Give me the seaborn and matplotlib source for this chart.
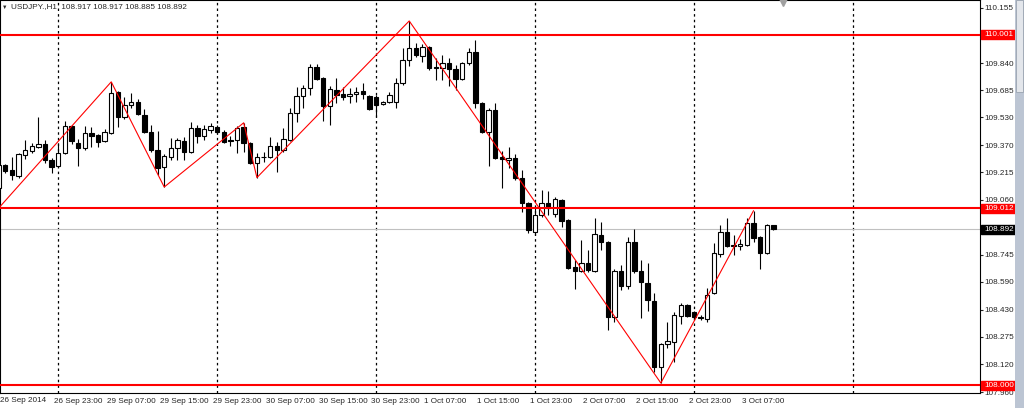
import pandas as pd
import seaborn as sns
import matplotlib.pyplot as plt
import matplotlib.transforms as mtransforms
from matplotlib.patches import Rectangle

symbol = "USDJPY.,H1"

# hourly candles, 26 Sep 15:00 .. 3 Oct 12:00
opens = [
    109.126, 109.258, 109.229, 109.195, 109.315, 109.338, 109.361, 109.378, 109.286, 109.252,
    109.327, 109.481, 109.384, 109.355, 109.441, 109.429, 109.395, 109.441, 109.675, 109.532,
    109.601, 109.618, 109.544, 109.446, 109.344, 109.246, 109.304, 109.355, 109.395, 109.332,
    109.469, 109.424, 109.458, 109.475, 109.446, 109.401, 109.401, 109.475, 109.384, 109.269,
    109.306, 109.304, 109.366, 109.344, 109.401, 109.555, 109.652, 109.698, 109.818, 109.755,
    109.595, 109.686, 109.664, 109.652, 109.664, 109.681, 109.652, 109.646, 109.606, 109.618,
    109.618, 109.727, 109.858, 109.926, 109.881, 109.932, 109.818, 109.812, 109.841, 109.806,
    109.749, 109.841, 109.904, 109.612, 109.446, 109.572, 109.304, 109.286, 109.298, 109.183,
    109.041, 108.875, 108.972, 109.041, 108.978, 109.058, 108.944, 108.675, 108.652, 108.698,
    108.652, 108.858, 108.818, 108.389, 108.652, 108.566, 108.818, 108.652, 108.584, 108.481,
    108.104, 108.235, 108.247, 108.395, 108.458, 108.418, 108.389, 108.378, 108.527, 108.749,
    108.875, 108.801, 108.795, 108.801, 108.926, 108.846, 108.755, 108.917,
]
highs = [
    109.269, 109.263, 109.304, 109.327, 109.401, 109.384, 109.532, 109.401, 109.298, 109.384,
    109.509, 109.486, 109.406, 109.481, 109.475, 109.435, 109.464, 109.733, 109.681, 109.646,
    109.669, 109.635, 109.578, 109.486, 109.452, 109.321, 109.412, 109.412, 109.418, 109.504,
    109.486, 109.486, 109.498, 109.486, 109.458, 109.424, 109.481, 109.499, 109.389, 109.327,
    109.332, 109.418, 109.389, 109.469, 109.584, 109.704, 109.715, 109.835, 109.835, 109.761,
    109.709, 109.755, 109.704, 109.698, 109.704, 109.727, 109.658, 109.658, 109.624, 109.675,
    109.755, 109.926, 110.081, 109.955, 109.949, 109.938, 109.869, 109.886, 109.869, 109.829,
    109.846, 109.926, 109.972, 109.618, 109.584, 109.612, 109.338, 109.361, 109.321, 109.229,
    109.046, 109.018, 109.115, 109.109, 109.075, 109.063, 108.949, 108.715, 108.829, 108.772,
    108.955, 108.932, 108.824, 108.664, 108.686, 108.846, 108.892, 108.715, 108.698, 108.527,
    108.241, 108.361, 108.418, 108.469, 108.464, 108.424, 108.401, 108.555, 108.812, 108.915,
    108.955, 108.858, 108.835, 108.955, 108.997, 108.852, 108.918, 108.917,
]
lows = [
    109.092, 109.212, 109.172, 109.183, 109.292, 109.327, 109.355, 109.269, 109.212, 109.246,
    109.321, 109.378, 109.252, 109.344, 109.361, 109.361, 109.389, 109.435, 109.475, 109.521,
    109.584, 109.544, 109.441, 109.332, 109.200, 109.132, 109.286, 109.286, 109.286, 109.327,
    109.384, 109.401, 109.441, 109.435, 109.384, 109.366, 109.327, 109.332, 109.263, 109.186,
    109.275, 109.298, 109.218, 109.332, 109.395, 109.504, 109.584, 109.658, 109.744, 109.509,
    109.486, 109.612, 109.629, 109.612, 109.618, 109.635, 109.572, 109.532, 109.601, 109.612,
    109.584, 109.715, 109.824, 109.875, 109.846, 109.801, 109.744, 109.744, 109.709, 109.686,
    109.744, 109.829, 109.584, 109.441, 109.252, 109.292, 109.126, 109.241, 109.172, 108.989,
    108.869, 108.858, 108.961, 108.972, 108.961, 108.904, 108.664, 108.549, 108.646, 108.646,
    108.646, 108.772, 108.315, 108.360, 108.544, 108.549, 108.641, 108.384, 108.424, 108.075,
    108.012, 108.212, 108.132, 108.349, 108.389, 108.372, 108.372, 108.361, 108.521, 108.732,
    108.792, 108.744, 108.772, 108.795, 108.818, 108.664, 108.752, 108.885,
]
closes = [
    109.258, 109.223, 109.200, 109.321, 109.344, 109.366, 109.378, 109.286, 109.246, 109.327,
    109.481, 109.395, 109.355, 109.441, 109.424, 109.389, 109.446, 109.669, 109.532, 109.601,
    109.618, 109.549, 109.446, 109.344, 109.241, 109.309, 109.355, 109.401, 109.332, 109.469,
    109.424, 109.464, 109.481, 109.446, 109.389, 109.395, 109.469, 109.384, 109.269, 109.304,
    109.302, 109.366, 109.344, 109.406, 109.555, 109.652, 109.698, 109.818, 109.749, 109.595,
    109.692, 109.658, 109.646, 109.664, 109.675, 109.664, 109.578, 109.601, 109.618, 109.658,
    109.727, 109.858, 109.926, 109.886, 109.932, 109.812, 109.812, 109.841, 109.806, 109.749,
    109.841, 109.904, 109.612, 109.446, 109.572, 109.298, 109.292, 109.298, 109.183, 109.041,
    108.886, 108.972, 109.041, 109.012, 109.063, 108.938, 108.669, 108.652, 108.698, 108.658,
    108.864, 108.818, 108.389, 108.652, 108.566, 108.818, 108.652, 108.589, 108.487, 108.104,
    108.235, 108.252, 108.401, 108.458, 108.395, 108.389, 108.384, 108.515, 108.755, 108.875,
    108.795, 108.795, 108.806, 108.926, 108.841, 108.755, 108.915, 108.892,
]

zigzag_bars = [-1, 17, 25, 37, 39, 62, 100, 114]
zigzag_prices = [108.969, 109.733, 109.132, 109.499, 109.186, 110.081, 108.012, 108.997]

level_prices = [110.001, 109.012, 108.000]
bid_price = 108.892

price_ticks = [110.155, 109.840, 109.685, 109.530, 109.370, 109.215, 109.060,
               108.745, 108.590, 108.430, 108.275, 108.120, 107.960]

first_time_label = "26 Sep 2014"
time_tick_bars = [8, 16, 24, 32, 40, 48, 56, 64, 72, 80, 88, 96, 104, 112]
time_tick_labels = ["26 Sep 23:00", "29 Sep 07:00", "29 Sep 15:00", "29 Sep 23:00",
                    "30 Sep 07:00", "30 Sep 15:00", "30 Sep 23:00", "1 Oct 07:00",
                    "1 Oct 15:00", "1 Oct 23:00", "2 Oct 07:00", "2 Oct 15:00",
                    "2 Oct 23:00", "3 Oct 07:00"]
day_start_bars = [9, 33, 57, 81, 105, 129]

df = pd.DataFrame({"open": opens, "high": highs, "low": lows, "close": closes})
df["bar"] = range(len(df))
df["bull"] = df["close"] >= df["open"]
df["body_low"] = df[["open", "close"]].min(axis=1)
df["body_h"] = (df["close"] - df["open"]).abs()

sns.set_style("white")
plt.rcParams["font.family"] = ["Liberation Sans", "DejaVu Sans"]
fs = 5.9

fig = plt.figure(figsize=(10.24, 4.08), dpi=100)
ax = fig.add_axes([0, 15 / 408, 980 / 1024, 393 / 408])

# period separators and bid line
for b in day_start_bars:
    ax.axvline(b, color="black", lw=0.9, ls=(0, (2, 2.5)), zorder=0.5)
ax.axhline(bid_price, color="#c0c0c0", lw=0.8, zorder=0.6)

# candles
ax.vlines(df["bar"], df["low"], df["high"], color="black", lw=0.8, zorder=2)
ax.bar(df["bar"], df["body_h"], bottom=df["body_low"], width=0.66,
       color=["white" if b else "black" for b in df["bull"]],
       edgecolor="black", linewidth=0.8, zorder=3)

# zigzag
sns.lineplot(x=zigzag_bars, y=zigzag_prices, ax=ax, color="red", lw=0.8,
             sort=False, estimator=None, zorder=4)

for p in level_prices:
    ax.axhline(p, color="red", lw=1.5, zorder=5)

ax.set_xlim(0.2, 148.2)
ax.set_ylim(107.955, 110.2007)

# axes
for s in ax.spines.values():
    s.set_color("black")
    s.set_linewidth(0.8)
ax.yaxis.tick_right()
ax.set_yticks(price_ticks)
ax.set_yticklabels([f"{t:.3f}" for t in price_ticks])
ax.tick_params(axis="y", direction="out", length=2, width=0.8, pad=1, labelsize=fs)
ax.set_xticks(time_tick_bars)
ax.set_xticklabels(time_tick_labels, ha="left")
ax.tick_params(axis="x", direction="out", length=3, width=0.8, pad=0.5, labelsize=fs)
off = mtransforms.ScaledTranslation(2 / 100, 0, fig.dpi_scale_trans)
for lbl in ax.get_xticklabels():
    lbl.set_transform(lbl.get_transform() + off)
ax.annotate(first_time_label, xy=(0, 0), xycoords="axes fraction", xytext=(0, -3.5),
            textcoords="offset pixels", ha="left", va="top", fontsize=fs)
ax.set_xlabel("")
ax.set_ylabel("")

# price labels on the scale
tr = mtransforms.blended_transform_factory(ax.transAxes, ax.transData)
box_w = 35 / 980
box_h = 9 / 175
for p, fc in [(p, "red") for p in level_prices] + [(bid_price, "black")]:
    ax.add_patch(Rectangle((1.0015, p - box_h / 2), box_w, box_h, transform=tr,
                           facecolor=fc, edgecolor=fc, clip_on=False, zorder=10))
    ax.text(1.0015 + 2.5 / 980, p, f"{p:.3f}", transform=tr, ha="left", va="center",
            color="white", fontsize=fs, clip_on=False, zorder=11)

# header
header = f"{symbol}  {df['open'].iloc[-1]:.3f} {df['high'].iloc[-1]:.3f} " \
         f"{df['low'].iloc[-1]:.3f} {df['close'].iloc[-1]:.3f}"
ax.annotate("\u25bc", xy=(0, 1), xycoords="axes fraction", xytext=(2, -7),
            textcoords="offset pixels", ha="left", va="center", fontsize=4)
ax.annotate(header, xy=(0, 1), xycoords="axes fraction", xytext=(11, -7),
            textcoords="offset pixels", ha="left", va="center", fontsize=fs)

# chart shift marker
ax.plot(len(df) + 0.5, 1.0, marker="v", ms=8, color="#a0a0a0",
        transform=mtransforms.blended_transform_factory(ax.transData, ax.transAxes),
        clip_on=True, zorder=6)

# scrollbar
fig.add_artist(Rectangle((1015 / 1024, 0), 9 / 1024, 1, transform=fig.transFigure,
                         facecolor="#bcc5d3", edgecolor="none"))
fig.add_artist(Rectangle((1016 / 1024, 1 - 92 / 408), 7 / 1024, 92 / 408,
                         transform=fig.transFigure, facecolor="#e3e6eb",
                         edgecolor="#9aa3b0", linewidth=0.6))

fig.savefig("out.png", dpi=100)
